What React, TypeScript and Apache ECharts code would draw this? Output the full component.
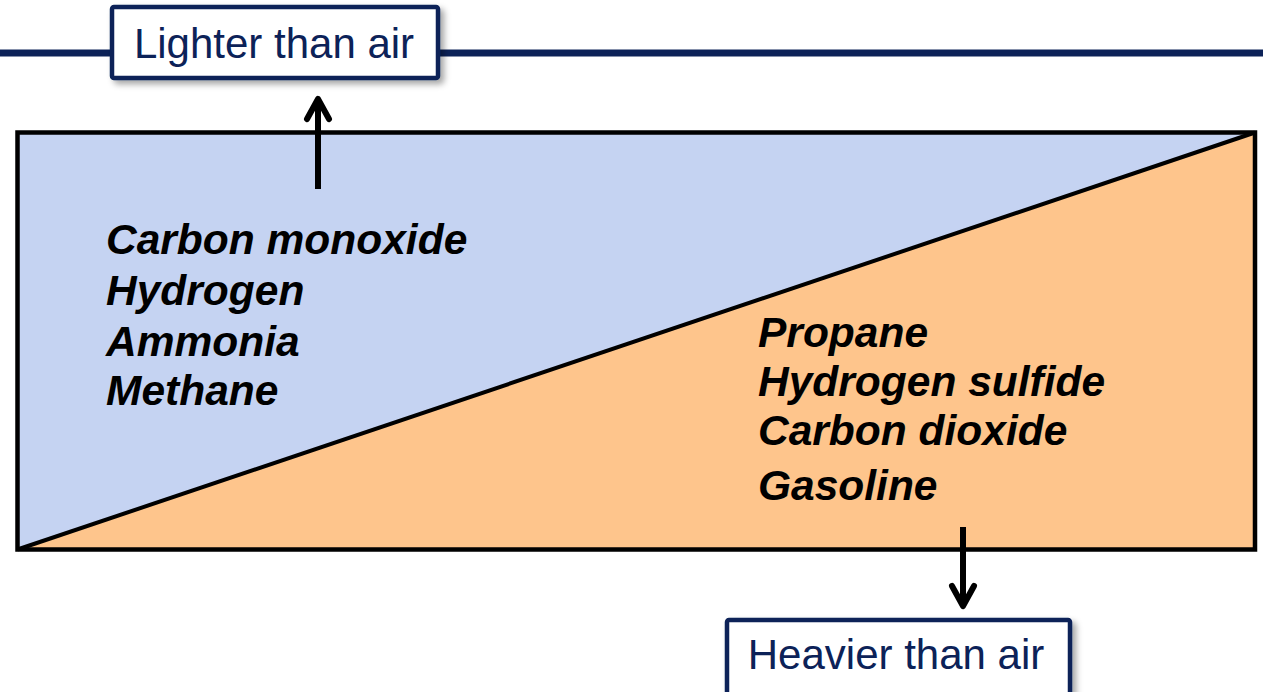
import React, { useEffect, useRef } from "react";
import * as echarts from "echarts";

// ---- data ----
const lighterGases = ["Carbon monoxide", "Hydrogen", "Ammonia", "Methane"];
const heavierGases = ["Propane", "Hydrogen sulfide", "Carbon dioxide", "Gasoline"];
const topLabel = "Lighter than air";
const bottomLabel = "Heavier than air";
// boundary between the two regions (relative density scale, 0..1 across box)
const boundaryX = [0, 1];
const boundaryY = [0, 1];

// ---- layout ----
const W = 1263;
const H = 692;
const BOX = { left: 17.5, top: 132.5, right: 1255, bottom: 549.5 };
const NAVY = "#0c2258";
const BLUE = "#c5d3f2";
const ORANGE = "#fec58c";
const FONT = "'Liberation Sans', Arial, sans-serif";
const GAS_SIZE = 42.5;
const LABEL_SIZE = 42;
const leftBaselines = [254, 304.5, 356, 405];
const rightBaselines = [347, 396, 445, 500];

export default function App() {
  const ref = useRef<HTMLDivElement>(null);
  useEffect(() => {
    document.body.style.margin = "0";
    if (!ref.current) return;
    const chart = echarts.init(ref.current, null, { renderer: "svg" });
    const off = (s: number) => 0.33 * s;
    const gasText = (name: string, x: number, baseline: number) => ({
      type: "text",
      x,
      y: baseline - off(GAS_SIZE),
      z: 50,
      style: {
        text: name,
        fill: "#000",
        font: `italic bold ${GAS_SIZE}px ${FONT}`,
        align: "left",
        verticalAlign: "middle",
      },
    });
    const arrow = (x: number, y1: number, y2: number) => {
      const dir = y2 < y1 ? 1 : -1;
      return [
        {
          type: "line",
          z: 50,
          shape: { x1: x, y1, x2: x, y2 },
          style: { stroke: "#000", lineWidth: 6 },
        },
        {
          type: "polyline",
          z: 50,
          shape: {
            points: [
              [x - 11, y2 + dir * 20],
              [x, y2],
              [x + 11, y2 + dir * 20],
            ],
          },
          style: { stroke: "#000", lineWidth: 6, fill: "none", lineCap: "round", lineJoin: "round" },
        },
      ];
    };
    const labelBox = (x: number, y: number, w: number, h: number, text: string, cx: number, baseline: number) => [
      {
        type: "rect",
        z: 40,
        shape: { x, y, width: w, height: h, r: 2 },
        style: {
          fill: "#fff",
          stroke: NAVY,
          lineWidth: 4.5,
          shadowBlur: 6,
          shadowOffsetX: 4,
          shadowOffsetY: 4,
          shadowColor: "rgba(0,0,0,0.35)",
        },
      },
      {
        type: "text",
        z: 41,
        x: cx,
        y: baseline - off(LABEL_SIZE),
        style: {
          text,
          fill: NAVY,
          font: `${LABEL_SIZE}px ${FONT}`,
          align: "center",
          verticalAlign: "middle",
        },
      },
    ];

    const option: any = {
      animation: false,
      grid: {
        left: BOX.left,
        top: BOX.top,
        width: BOX.right - BOX.left,
        height: BOX.bottom - BOX.top,
        show: true,
        backgroundColor: BLUE,
        borderWidth: 0,
      },
      xAxis: { type: "value", min: 0, max: 1, show: false },
      yAxis: { type: "value", min: 0, max: 1, show: false },
      series: [
        {
          type: "line",
          data: boundaryX.map((x, i) => [x, boundaryY[i]]),
          symbol: "none",
          lineStyle: { color: "#000", width: 4 },
          areaStyle: { color: ORANGE, opacity: 1 },
          z: 5,
        },
      ],
      graphic: [
        {
          type: "line",
          z: 30,
          shape: { x1: 0, y1: 53, x2: W, y2: 53 },
          style: { stroke: NAVY, lineWidth: 7 },
        },
        {
          type: "rect",
          z: 20,
          shape: { x: BOX.left, y: BOX.top, width: BOX.right - BOX.left, height: BOX.bottom - BOX.top },
          style: { fill: "none", stroke: "#000", lineWidth: 4.5 },
        },
        ...labelBox(112, 7, 326, 71, topLabel, 274, 57),
        ...labelBox(727, 620, 343, 90, bottomLabel, 896, 668),
        ...arrow(318, 189, 99),
        ...arrow(963, 527, 606),
        ...lighterGases.map((g, i) => gasText(g, 106, leftBaselines[i])),
        ...heavierGases.map((g, i) => gasText(g, 758, rightBaselines[i])),
      ],
    };
    chart.setOption(option);
    return () => chart.dispose();
  }, []);
  return <div ref={ref} style={{ width: W, height: H }} />;
}
